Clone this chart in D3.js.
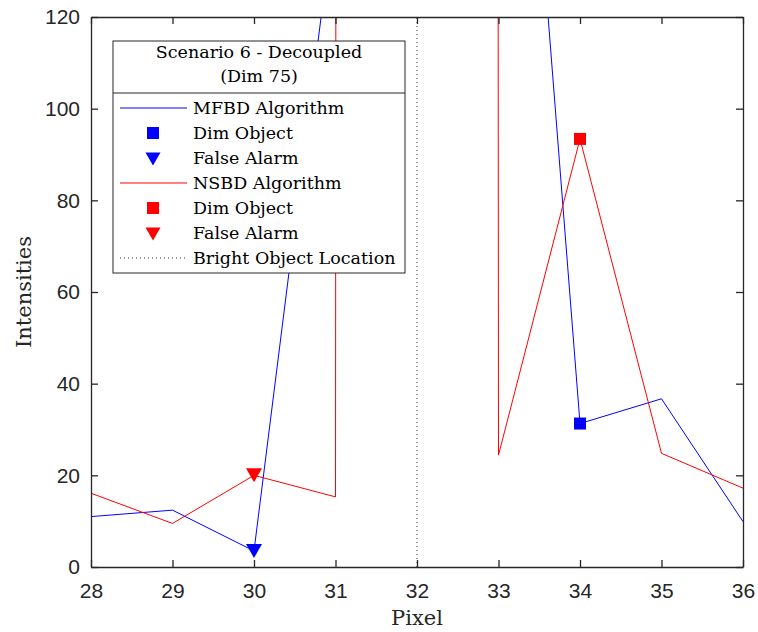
<!DOCTYPE html>
<html>
<head>
  <title>Scenario 6</title>
  <script type="text/javascript" src="https://cdn.jsdelivr.net/npm/d3@7"></script>
  <style>
    body { margin: 0; background: #fff; }
    svg { display: block; }
  </style>
</head>
<body>
  <script type="text/javascript">

    // Data
    const pixels = [28, 29, 30, 31, 32, 33, 34, 35, 36];
    const mfbd = [11.0, 12.4, 3.5, 145, 900, 258, 31.3, 36.7, 9.9];
    const nsbd = [16.1, 9.5, 20.0, 15.3, 25000, 24.4, 93.4, 24.8, 17.2];
    const dimIndex = 6;    // pixel 34
    const alarmIndex = 2;  // pixel 30
    const brightPixel = 32;
    const xTicks = [28, 29, 30, 31, 32, 33, 34, 35, 36];
    const yTicks = [0, 20, 40, 60, 80, 100, 120];
    const legendTitle = ["Scenario 6 - Decoupled", "(Dim 75)"];
    const legendLabels = ["MFBD Algorithm", "Dim Object", "False Alarm",
      "NSBD Algorithm", "Dim Object", "False Alarm", "Bright Object Location"];

    const W = 758, H = 632;
    const pLeft = 91, pRight = 743, pTop = 17, pBottom = 567;
    const axisColor = "#262626";
    const serif = "'DejaVu Serif', serif";
    const sans = "'Liberation Sans', Arial, sans-serif";

    const svg = d3.select("body").append("svg")
      .attr("width", W)
      .attr("height", H);

    const xScale = d3.scaleLinear().domain([28, 36]).range([pLeft, pRight]);
    const yScale = d3.scaleLinear().domain([0, 120]).range([pBottom, pTop]);

    svg.append("clipPath").attr("id", "clip")
      .append("rect")
      .attr("x", pLeft).attr("y", pTop)
      .attr("width", pRight - pLeft).attr("height", pBottom - pTop);

    const plot = svg.append("g").attr("clip-path", "url(#clip)");

    // bright object location
    plot.append("line")
      .attr("x1", xScale(brightPixel)).attr("x2", xScale(brightPixel))
      .attr("y1", yScale(0)).attr("y2", yScale(120))
      .attr("stroke", "#333")
      .attr("stroke-width", 1)
      .attr("stroke-dasharray", "1,3");

    const line = d3.line()
      .x(function (d, i) { return xScale(pixels[i]); })
      .y(function (d) { return yScale(d); });

    plot.append("path").datum(mfbd)
      .attr("d", line)
      .attr("fill", "none")
      .attr("stroke", "#0000ff")
      .attr("stroke-width", 1);

    plot.append("path").datum(nsbd)
      .attr("d", line)
      .attr("fill", "none")
      .attr("stroke", "#ff0000")
      .attr("stroke-width", 1);

    // markers
    function square(g, x, y, s, color) {
      g.append("rect")
        .attr("x", x - s / 2).attr("y", y - s / 2)
        .attr("width", s).attr("height", s)
        .attr("fill", color);
    }
    function triangle(g, x, y, w, h, color) {
      g.append("path")
        .attr("d", "M" + (x - w / 2) + "," + (y - h / 2) + "L" + (x + w / 2) + "," + (y - h / 2) + "L" + x + "," + (y + h / 2) + "Z")
        .attr("fill", color);
    }

    square(svg, xScale(pixels[dimIndex]), yScale(mfbd[dimIndex]), 12, "#0000ff");
    square(svg, xScale(pixels[dimIndex]), yScale(nsbd[dimIndex]), 12, "#ff0000");
    triangle(svg, xScale(pixels[alarmIndex]), yScale(mfbd[alarmIndex]), 16, 14, "#0000ff");
    triangle(svg, xScale(pixels[alarmIndex]), yScale(nsbd[alarmIndex]), 16, 14, "#ff0000");

    // axes
    const xAxis = d3.axisBottom(xScale).tickValues(xTicks).tickSizeInner(-7).tickSizeOuter(0).tickPadding(16);
    const yAxis = d3.axisLeft(yScale).tickValues(yTicks).tickSizeInner(-7).tickSizeOuter(0).tickPadding(11);

    const gx = svg.append("g").attr("transform", "translate(0," + pBottom + ")").call(xAxis);
    const gy = svg.append("g").attr("transform", "translate(" + pLeft + ",0)").call(yAxis);
    const gxt = svg.append("g").attr("transform", "translate(0," + pTop + ")")
      .call(d3.axisTop(xScale).tickValues(xTicks).tickSizeInner(-7).tickSizeOuter(0).tickFormat(""));
    const gyr = svg.append("g").attr("transform", "translate(" + pRight + ",0)")
      .call(d3.axisRight(yScale).tickValues(yTicks).tickSizeInner(-7).tickSizeOuter(0).tickFormat(""));

    [gx, gy, gxt, gyr].forEach(function (g) {
      g.select(".domain").attr("stroke", axisColor).attr("stroke-width", 1.3);
      g.selectAll(".tick line").attr("stroke", axisColor).attr("stroke-width", 1.3);
      g.selectAll(".tick text")
        .attr("fill", axisColor)
        .style("font-family", sans)
        .style("font-size", "21px");
    });

    // axis labels
    svg.append("text")
      .attr("x", (pLeft + pRight) / 2).attr("y", 625)
      .attr("text-anchor", "middle")
      .style("font-family", serif).style("font-size", "21px")
      .attr("fill", axisColor)
      .text("Pixel");

    svg.append("text")
      .attr("transform", "translate(31," + (pTop + pBottom) / 2 + ") rotate(-90)")
      .attr("text-anchor", "middle")
      .style("font-family", serif).style("font-size", "21px")
      .attr("fill", axisColor)
      .text("Intensities");

    // legend
    const lx = 113, ly = 41, lw = 292, lh = 232;
    const legend = svg.append("g");
    legend.append("rect")
      .attr("x", lx).attr("y", ly).attr("width", lw).attr("height", lh)
      .attr("fill", "#fff").attr("stroke", axisColor).attr("stroke-width", 1);
    legend.append("line")
      .attr("x1", lx).attr("x2", lx + lw).attr("y1", 93).attr("y2", 93)
      .attr("stroke", axisColor).attr("stroke-width", 1);

    legend.selectAll("text.title")
      .data(legendTitle)
      .enter().append("text")
      .attr("class", "title")
      .attr("x", lx + lw / 2)
      .attr("y", function (d, i) { return 58 + i * 24; })
      .attr("text-anchor", "middle")
      .style("font-family", serif).style("font-size", "17.5px")
      .attr("fill", "#000")
      .text(function (d) { return d; });

    const rowY = function (i) { return 108 + i * 25; };
    const colors = ["#0000ff", "#0000ff", "#0000ff", "#ff0000", "#ff0000", "#ff0000", "#333"];
    legendLabels.forEach(function (label, i) {
      const y = rowY(i);
      const kind = i === 6 ? "dot" : ["line", "square", "tri"][i % 3];
      if (kind === "line" || kind === "dot") {
        legend.append("line")
          .attr("x1", 120).attr("x2", 187).attr("y1", y).attr("y2", y)
          .attr("stroke", colors[i]).attr("stroke-width", 1)
          .attr("stroke-dasharray", kind === "dot" ? "1,3" : null);
      } else if (kind === "square") {
        square(legend, 153, y, 12, colors[i]);
      } else {
        triangle(legend, 153, y + 1, 15, 13, colors[i]);
      }
      legend.append("text")
        .attr("x", 193).attr("y", y + 6)
        .style("font-family", serif).style("font-size", "17.5px")
        .attr("fill", "#000")
        .text(label);
    });
  </script>
</body>
</html>
